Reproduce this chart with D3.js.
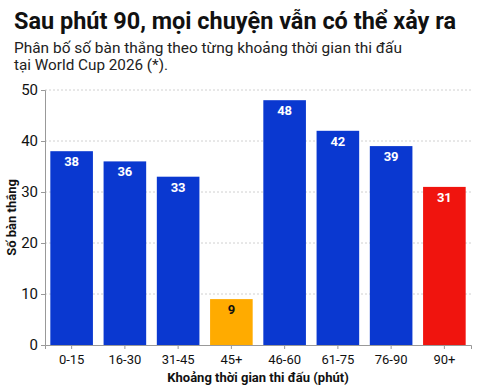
<!DOCTYPE html>
<html>
<head>
<meta charset="utf-8">
<script src="https://cdn.jsdelivr.net/npm/d3@7"></script>
<style>
  body { margin: 0; background: #fff; }
  text { font-family: Roboto, "Liberation Sans", sans-serif; }
</style>
</head>
<body>
<div id="chart"></div>
<script>
// data
let periods = ["0-15", "16-30", "31-45", "45+", "46-60", "61-75", "76-90", "90+"];
let goals = [38, 36, 33, 9, 48, 42, 39, 31];
let barColors = ["#0a38d0", "#0a38d0", "#0a38d0", "#ffab00", "#0a38d0", "#0a38d0", "#0a38d0", "#f0140e"];
let yTicks = [0, 10, 20, 30, 40, 50];

var W = 480, H = 392;
var margin = {top: 90, right: 9, bottom: 47, left: 45},
    width = W - margin.left - margin.right,
    height = H - margin.top - margin.bottom;

var svg = d3.select("#chart").append("svg")
    .attr("width", W).attr("height", H);

// title + subtitle
svg.append("text").attr("x", 14).attr("y", 29)
    .style("font-size", "24px").style("font-weight", "bold").attr("fill", "#111")
    .attr("textLength", 442).attr("lengthAdjust", "spacingAndGlyphs")
    .text("Sau phút 90, mọi chuyện vẫn có thể xảy ra");
svg.append("text").attr("x", 14).attr("y", 52.5)
    .style("font-size", "15.5px").attr("fill", "#222")
    .attr("textLength", 388).attr("lengthAdjust", "spacingAndGlyphs")
    .text("Phân bố số bàn thắng theo từng khoảng thời gian thi đấu");
svg.append("text").attr("x", 14).attr("y", 70)
    .style("font-size", "15.5px").attr("fill", "#222")
    .attr("textLength", 154).attr("lengthAdjust", "spacingAndGlyphs")
    .text("tại World Cup 2026 (*).");

var g = svg.append("g").attr("transform", `translate(${margin.left},${margin.top})`);

var x = d3.scaleBand().domain(periods).range([0, width]).paddingInner(0.2).paddingOuter(0.1);
var y = d3.scaleLinear().domain([0, 50]).range([height, 0]);

// grid
g.append("g").selectAll("line").data(yTicks.slice(1)).join("line")
    .attr("x1", 0).attr("x2", width)
    .attr("y1", d => y(d)).attr("y2", d => y(d))
    .attr("stroke", "#d0d0d0").attr("stroke-dasharray", "2,2");

// bars
g.selectAll("rect.bar").data(periods).join("rect")
    .attr("class", "bar")
    .attr("x", d => x(d))
    .attr("y", (d, i) => y(goals[i]))
    .attr("width", x.bandwidth())
    .attr("height", (d, i) => height - y(goals[i]))
    .attr("fill", (d, i) => barColors[i]);

// value labels
g.selectAll("text.val").data(periods).join("text")
    .attr("class", "val")
    .attr("x", d => x(d) + x.bandwidth() / 2)
    .attr("y", (d, i) => y(goals[i]) + 15)
    .attr("text-anchor", "middle")
    .style("font-size", "13px").style("font-weight", "bold").attr("fill", (d, i) => goals[i] < 10 ? "#111" : "#fff")
    .text((d, i) => goals[i]);

// axes
g.append("g")
    .attr("transform", `translate(0,${height})`)
    .call(d3.axisBottom(x).tickSizeOuter(0).tickSize(4))
    .call(a => a.selectAll("line, path").attr("stroke", "#999"))
    .call(a => a.selectAll("text").style("font-size", "13px").attr("fill", "#111").attr("dy", "0.9em"));

g.append("g")
    .call(d3.axisLeft(y).tickValues(yTicks).tickSizeOuter(0).tickSize(4))
    .call(a => a.selectAll("line, path").attr("stroke", "#999"))
    .call(a => a.selectAll("text").style("font-size", "15px").attr("fill", "#111"));

// axis titles
svg.append("text")
    .attr("x", margin.left + width / 2).attr("y", 382)
    .attr("text-anchor", "middle")
    .style("font-size", "13px").style("font-weight", "bold").attr("fill", "#111")
    .text("Khoảng thời gian thi đấu (phút)");
svg.append("text")
    .attr("transform", `translate(16,${margin.top + height / 2}) rotate(-90)`)
    .attr("text-anchor", "middle")
    .style("font-size", "13px").style("font-weight", "bold").attr("fill", "#111")
    .text("Số bàn thắng");
</script>
</body>
</html>
